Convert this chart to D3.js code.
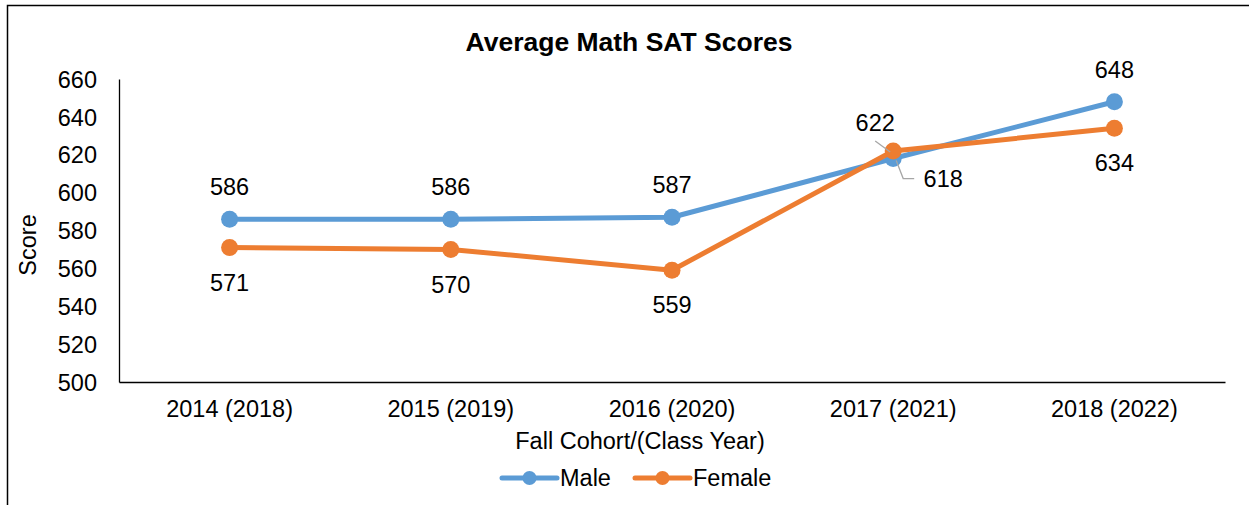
<!DOCTYPE html>
<meta charset="utf-8">
<style>
    body { margin: 0; background: #fff; }
    svg { font-family: "Liberation Sans", Arial, sans-serif; }
    .axis path { stroke: #000; stroke-width: 1.3; }
    .axis line { display: none; }
    .axis text { font-size: 23.5px; fill: #000; }
</style>
<body>
<script src="https://cdn.jsdelivr.net/npm/d3@7"></script>
<script>
    const categories = ["2014 (2018)", "2015 (2019)", "2016 (2020)", "2017 (2021)", "2018 (2022)"];
    const male = [586, 586, 587, 618, 648];
    const female = [571, 570, 559, 622, 634];
    const yTicks = [500, 520, 540, 560, 580, 600, 620, 640, 660];

    const width = 1249, height = 505;
    const margin = {top: 79, right: 24, bottom: 123, left: 119};
    const fs = '23.5px';

    const svg = d3.select('body').append('svg')
        .attr('width', width)
        .attr('height', height);

    // chart frame (only left and top edges visible)
    svg.append('path')
        .attr('d', 'M7.5,505 V5.5 H1249')
        .attr('fill', 'none')
        .attr('stroke', '#000')
        .attr('stroke-width', 1.5);

    const x = d3.scaleBand()
        .domain(categories)
        .range([margin.left, width - margin.right]);
    const y = d3.scaleLinear()
        .domain([500, 660])
        .range([height - margin.bottom, margin.top]);

    const cx = d => x(d) + x.bandwidth() / 2;

    svg.append('g')
        .attr('class', 'axis')
        .attr('transform', 'translate(0,' + (height - margin.bottom) + ')')
        .call(d3.axisBottom(x).tickSize(0).tickPadding(18).tickSizeOuter(0));

    svg.append('g')
        .attr('class', 'axis')
        .attr('transform', 'translate(' + margin.left + ',0)')
        .call(d3.axisLeft(y).tickValues(yTicks).tickSize(0).tickPadding(22).tickSizeOuter(0))
        .call(g => g.selectAll('text').attr('dy', '0.35em'));

    svg.append('text')
        .attr('x', 629).attr('y', 51)
        .attr('text-anchor', 'middle')
        .style('font-size', '26.5px').style('font-weight', 'bold')
        .text('Average Math SAT Scores');

    svg.append('text')
        .attr('x', 640).attr('y', 441)
        .attr('dy', '0.35em')
        .attr('text-anchor', 'middle')
        .style('font-size', fs)
        .text('Fall Cohort/(Class Year)');

    svg.append('text')
        .attr('transform', 'translate(28,245) rotate(-90)')
        .attr('dy', '0.35em')
        .attr('text-anchor', 'middle')
        .style('font-size', fs)
        .text('Score');

    const series = [
        {name: 'Male', values: male, color: '#5B9BD5'},
        {name: 'Female', values: female, color: '#ED7D31'}
    ];

    const line = d3.line()
        .x((d, i) => cx(categories[i]))
        .y(d => y(d));

    series.forEach(s => {
        svg.append('path')
            .datum(s.values)
            .attr('fill', 'none')
            .attr('stroke', s.color)
            .attr('stroke-width', 5)
            .attr('stroke-linejoin', 'round')
            .attr('d', line);
        svg.selectAll(null)
            .data(s.values)
            .enter().append('circle')
            .attr('cx', (d, i) => cx(categories[i]))
            .attr('cy', d => y(d))
            .attr('r', 8.5)
            .attr('fill', s.color);
    });

    // data labels
    const labelStyle = sel => sel.attr('text-anchor', 'middle').style('font-size', fs).attr('dy', '0.35em');
    male.forEach((v, i) => {
        if (i === 3) return;
        svg.append('text').call(labelStyle)
            .attr('x', cx(categories[i])).attr('y', y(v) - 32).text(v);
    });
    female.forEach((v, i) => {
        if (i === 3) return;
        svg.append('text').call(labelStyle)
            .attr('x', cx(categories[i])).attr('y', y(v) + 35).text(v);
    });

    // moved labels with leader lines for the crossing point
    const px = cx(categories[3]);
    svg.append('path')
        .attr('d', 'M' + (px - 18) + ',' + (y(female[3]) - 10) + ' L' + (px - 3) + ',' + (y(female[3]) + 1))
        .attr('stroke', '#a6a6a6').attr('stroke-width', 1.3).attr('fill', 'none');
    svg.append('text').call(labelStyle)
        .attr('x', px - 18).attr('y', y(female[3]) - 28).text(female[3]);
    svg.append('path')
        .attr('d', 'M' + (px + 3) + ',' + (y(male[3]) + 2) + ' L' + (px + 10) + ',' + (y(male[3]) + 20) + ' H' + (px + 21))
        .attr('stroke', '#a6a6a6').attr('stroke-width', 1.3).attr('fill', 'none');
    svg.append('text').call(labelStyle)
        .attr('x', px + 50).attr('y', y(male[3]) + 20).text(male[3]);

    // legend
    const legend = svg.append('g').attr('transform', 'translate(0,478)');
    const legendX = [502, 635];
    series.forEach((s, i) => {
        const g = legend.append('g').attr('transform', 'translate(' + legendX[i] + ',0)');
        g.append('line').attr('x1', 0).attr('x2', 55)
            .attr('stroke', s.color).attr('stroke-width', 5).attr('stroke-linecap', 'round');
        g.append('circle').attr('cx', 27.5).attr('r', 7).attr('fill', s.color);
        g.append('text').attr('x', 58).attr('dy', '0.35em')
            .style('font-size', fs).text(s.name);
    });
</script>
</body>
</html>
